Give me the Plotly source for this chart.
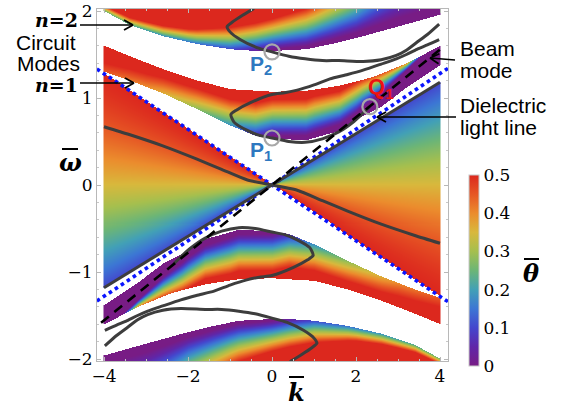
import numpy as np
import plotly.graph_objects as go

# ---------------- data ----------------
k_ticks = [-4, -2, 0, 2, 4]
w_ticks = [-2, -1, 0, 1, 2]
theta_ticks = [0, 0.1, 0.2, 0.3, 0.4, 0.5]

v_light = 0.32     # dotted blue light lines  w = +/- v k
v_diel = 0.295     # dielectric light line (solid)
v_beam = 0.389     # beam mode (dashed)

# wedge (slow-wave region) colouring
wedge_base = 0.1
wedge_pow = 1.5

# n = 1 circuit-mode band (upper), edges
n1_k_lo = [-4.0, -3.4, -2.6, -1.8, -1.0, -0.4, 0.0, 0.8, 1.6, 2.15, 2.6, 3.2, 4.0]
n1_lo   = [1.30, 1.20, 1.05, 0.87, 0.68, 0.56, 0.53, 0.51, 0.62, 0.79, 0.90, 1.12, 1.38]
n1_k_hi = [-4.0, -3.4, -2.6, -1.8, -1.0, 0.0, 0.8, 1.6, 2.4, 3.2, 4.0]
n1_hi   = [1.60, 1.48, 1.33, 1.20, 1.10, 1.07, 1.08, 1.14, 1.24, 1.40, 1.60]
n1_k_p  = [-4.0, -3.0, -2.0, -1.0, -0.4, 0.0, 1.0, 2.0, 2.6, 3.2, 4.0]
n1_thb  = [0.45, 0.40, 0.30, 0.18, 0.06, 0.0, 0.0, 0.0, 0.0, 0.0, 0.0]
n1_off  = [0.0, 0.0, 0.0, 0.0, 0.0, 0.03, 0.06, 0.08, 0.15, 0.20, 0.30]
n1_D    = [0.10, 0.15, 0.22, 0.30, 0.38, 0.42, 0.42, 0.36, 0.25, 0.10, 0.10]

# n = 2 circuit-mode band (upper), edges
n2_k_lo = [-4.0, -3.4, -2.6, -1.8, -1.0, -0.4, 0.0, 0.8, 1.4, 2.0, 2.6, 3.2, 4.0]
n2_lo   = [2.00, 1.84, 1.71, 1.62, 1.56, 1.54, 1.54, 1.56, 1.62, 1.69, 1.77, 1.85, 1.96]
n2_k_hi = [-4.0, 4.0]
n2_hi   = [2.10, 2.10]
n2_k_p  = [-4.0, -3.0, -2.0, -1.0, 0.0, 1.0, 2.0, 3.0, 4.0]
n2_thb  = [0.25, 0.20, 0.15, 0.10, 0.0, 0.0, 0.0, 0.0, 0.0]
n2_off  = [0.0, 0.0, 0.0, 0.0, 0.02, 0.04, 0.06, 0.10, 0.10]
n2_D    = [0.06, 0.10, 0.15, 0.25, 0.35, 0.45, 0.60, 1.00, 1.50]

# real dispersion curves (upper half; lower half is the point mirror)
curveA_k = [-0.43, -0.70, -0.95, -1.07, -1.00, -0.75, -0.36, 0.0, 0.40, 0.79, 1.20, 1.59, 2.17, 2.60, 2.96,
            3.20, 3.45, 3.70, 3.98]
curveA_w = [2.03, 1.95, 1.87, 1.82, 1.76, 1.67, 1.58, 1.53, 1.48, 1.45, 1.43, 1.43, 1.42, 1.44, 1.49,
            1.55, 1.64, 1.73, 1.85]
curveB_k = [3.98, 3.70, 3.45, 3.20, 2.96, 2.60, 2.17, 1.80, 1.38, 1.00, 0.60, 0.30, 0.0, -0.50, -0.85, -0.98,
            -0.90, -0.60, -0.30, 0.0, 0.40, 0.79, 1.20, 1.59, 1.95, 2.33]
curveB_w = [1.67, 1.61, 1.56, 1.50, 1.45, 1.39, 1.32, 1.27, 1.22, 1.15, 1.09, 1.06, 1.04, 0.95, 0.86, 0.81,
            0.72, 0.63, 0.57, 0.54, 0.50, 0.49, 0.53, 0.61, 0.73, 0.90]
curveS_k = [-4.0, -3.4, -2.6, -1.8, -1.2, -0.6, 0.0]
curveS_w = [0.67, 0.58, 0.45, 0.30, 0.18, 0.06, 0.0]
line_k = [-4.0, 4.0]
light_k = [-4.17, 4.19]
beam_k = [-4.07, 4.0]

# special points
pts_name = ["P2", "P1", "Q1"]
pts_k = [0.0, 0.0, 2.33]
pts_w = [1.53, 0.54, 0.90]

# ---------------- pixel helpers (layout only) ----------------
def px(x):
    return (x - 272) / 42.0

def py(y):
    return (185 - y) / 87.0

def pxp(x):
    return (x - 97) / 351.0

def pyp(y):
    return (361 - y) / 352.0

# ---------------- colour field ----------------
kk = np.linspace(-4, 4, 337)
ww = np.linspace(-2.03, 2.03, 353)
K, W = np.meshgrid(kk, ww)


def band_theta(K, W, k_lo, lo, k_hi, hi, k_p, thb, off, D):
    L = np.interp(K, k_lo, lo)
    H = np.interp(K, k_hi, hi)
    tb = np.interp(K, k_p, thb)
    o = np.interp(K, k_p, off)
    d = np.interp(K, k_p, D)
    th = tb + (0.5 - tb) * np.clip((W - L - o) / d, 0, 1)
    return np.where((W >= L) & (W <= H), th, np.nan)


def wedge_theta(K, W):
    bot = v_diel * K
    top = -v_light * K
    with np.errstate(divide="ignore", invalid="ignore"):
        t = (W - bot) / (top - bot)
    m = (K < 0) & (t >= 0) & (t <= 1)
    tt = np.clip(np.nan_to_num(t), 0, 1)
    th = wedge_base + (0.5 - wedge_base) * (1 - (1 - tt) ** wedge_pow)
    return np.where(m, th, np.nan)


def upper(K, W):
    a = band_theta(K, W, n1_k_lo, n1_lo, n1_k_hi, n1_hi, n1_k_p, n1_thb, n1_off, n1_D)
    b = band_theta(K, W, n2_k_lo, n2_lo, n2_k_hi, n2_hi, n2_k_p, n2_thb, n2_off, n2_D)
    return np.where(np.isnan(a), b, a)


Z = np.full(K.shape, np.nan)
for part in (wedge_theta(K, W), wedge_theta(-K, -W), upper(K, W), upper(-K, -W)):
    Z = np.where(np.isnan(Z), part, Z)

rainbow = [
    [0.0, "rgb(120,28,133)"], [0.1, "rgb(96,38,168)"], [0.2, "rgb(68,70,205)"],
    [0.3, "rgb(60,118,212)"], [0.4, "rgb(66,160,182)"], [0.5, "rgb(108,181,118)"],
    [0.6, "rgb(165,191,78)"], [0.7, "rgb(216,184,60)"], [0.8, "rgb(235,140,45)"],
    [0.9, "rgb(230,86,36)"], [1.0, "rgb(220,40,30)"],
]

fig = go.Figure()
fig.add_trace(go.Heatmap(
    x=kk, y=ww, z=Z, zmin=0, zmax=0.5, colorscale=rainbow, zsmooth=False,
    hoverinfo="skip",
    colorbar=dict(
        x=pxp(459), xanchor="left", y=pyp(270.5), yanchor="middle",
        thickness=10, lenmode="pixels", len=211, outlinewidth=1, outlinecolor="#c8c8c8",
        tickvals=theta_ticks, ticktext=["0", "0.1", "0.2", "0.3", "0.4", "0.5"],
        tickfont=dict(family="DejaVu Serif", size=17, color="black"),
        ticks="",
    ),
))

dark = "#3d3d3d"
mk = np.array
# dotted light lines
for s in (1, -1):
    fig.add_trace(go.Scatter(x=light_k, y=list(s * v_light * mk(light_k)), mode="lines",
                             line=dict(color="#0a14ff", width=3.6, dash="dot"), hoverinfo="skip", showlegend=False))
# dielectric line
fig.add_trace(go.Scatter(x=line_k, y=list(v_diel * mk(line_k)), mode="lines",
                         line=dict(color=dark, width=3), hoverinfo="skip", showlegend=False))
# curves and their point mirrors
for ck, cw in ((curveA_k, curveA_w), (curveB_k, curveB_w), (curveS_k, curveS_w)):
    for s in (1, -1):
        fig.add_trace(go.Scatter(x=list(s * mk(ck)), y=list(s * mk(cw)), mode="lines",
                                 line=dict(color=dark, width=3, shape="spline", smoothing=0.6),
                                 hoverinfo="skip", showlegend=False))
# beam line
fig.add_trace(go.Scatter(x=beam_k, y=list(v_beam * mk(beam_k)), mode="lines",
                         line=dict(color="black", width=2.6, dash="10px,7px"), hoverinfo="skip", showlegend=False))
# special points
fig.add_trace(go.Scatter(x=pts_k, y=pts_w, mode="markers",
                         marker=dict(symbol="circle-open", size=15, color="#a8a8a8", line=dict(width=2.2)),
                         hoverinfo="skip", showlegend=False))

ann = []
shapes = []
sans = "Liberation Sans"


def text(xp, yp, t, size=21, color="black", family=sans, xa="center"):
    ann.append(dict(x=pxp(xp), y=pyp(yp), xref="paper", yref="paper", text=t, showarrow=False,
                    font=dict(family=family, size=size, color=color), xanchor=xa, yanchor="middle"))


def seg(x0, y0, x1, y1, w=1.6):
    shapes.append(dict(type="line", xref="paper", yref="paper", x0=pxp(x0), y0=pyp(y0), x1=pxp(x1), y1=pyp(y1),
                       line=dict(color="black", width=w), layer="above"))


def arrow(x0, y0, x1, y1):
    seg(x0, y0, x1, y1)
    d = np.hypot(x1 - x0, y1 - y0)
    ux, uy = (x1 - x0) / d, (y1 - y0) / d
    for sgn in (1, -1):
        seg(x1, y1, x1 - 9 * ux + sgn * 5 * uy, y1 - 9 * uy - sgn * 5 * ux, w=1.8)


text(56, 20, "<b><i>n</i>=2</b>", size=19, family="DejaVu Serif")
text(56, 85, "<b><i>n</i>=1</b>", size=19, family="DejaVu Serif")
text(46, 43, "Circuit")
text(49, 63, "Modes")
text(458, 48, "Beam", xa="left")
text(458, 70, "mode", xa="left")
text(458, 106, "Dielectric", xa="left")
text(458, 127, "light line", xa="left")
text(261, 65, "<b>P<sub>2</sub></b>", size=21, color="#2e78c0")
text(261, 151, "<b>P<sub>1</sub></b>", size=21, color="#2e78c0")
text(381, 88, "<b>Q<sub>1</sub></b>", size=22, color="#ee1111")
text(70, 162, "<b><i>ω</i></b>", size=24, family="DejaVu Serif")
text(296, 392, "<b><i>k</i></b>", size=24, family="DejaVu Serif")
text(531, 273, "<b><i>θ</i></b>", size=24, family="DejaVu Serif")
seg(62, 149, 78, 149, w=2)
seg(289, 377, 304, 377, w=2)
seg(524, 259, 539, 259, w=2)
arrow(80, 25, 133, 25)
arrow(80, 83, 134, 83)
arrow(455, 60, 430, 58)
arrow(456, 117, 377, 117)

axis_common = dict(showline=True, linecolor="#b8b8b8", linewidth=1, mirror="allticks", showgrid=False,
                   zeroline=False, ticks="inside", ticklen=4, tickcolor="#b8b8b8",
                   tickfont=dict(family="DejaVu Serif", size=17, color="black"))
fig.update_layout(
    width=562, height=409, margin=dict(l=97, r=114, t=9, b=48, autoexpand=False),
    paper_bgcolor="white", plot_bgcolor="white", annotations=ann, shapes=shapes, showlegend=False,
    xaxis=dict(range=[px(97), px(448)], tickvals=k_ticks,
               minor=dict(dtick=0.5, ticks="inside", ticklen=2, tickcolor="#c8c8c8"), **axis_common),
    yaxis=dict(range=[py(361), py(9)], tickvals=w_ticks,
               minor=dict(dtick=0.2, ticks="inside", ticklen=2, tickcolor="#c8c8c8"), **axis_common),
)
fig.write_html("out.html", config={"displayModeBar": False},
               post_script="document.body.style.margin='0px';document.body.style.overflow='hidden';")
